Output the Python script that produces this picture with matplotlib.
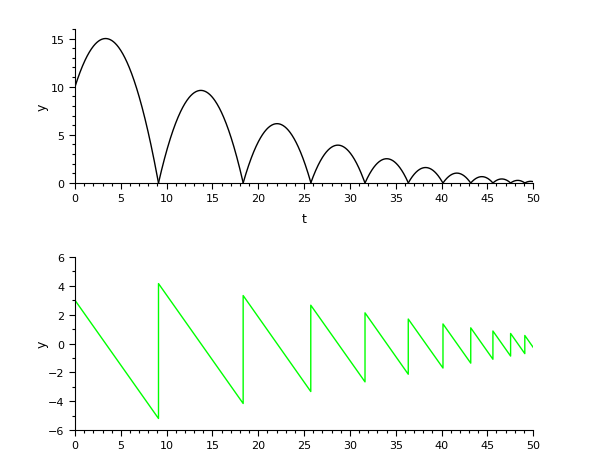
import numpy as np
import matplotlib
matplotlib.use("Agg")
import matplotlib.pyplot as plt
from matplotlib.ticker import MultipleLocator

# Values
bounce_t = [0.0, 9.11, 18.35, 25.73, 31.65, 36.37, 40.16, 43.19, 45.61, 47.54, 49.09, 50.0]
v_after = [3.0, 4.16, 3.33, 2.66, 2.13, 1.70, 1.36, 1.09, 0.87, 0.70, 0.56]
v_before = [-5.20, -4.16, -3.33, -2.66, -2.13, -1.70, -1.36, -1.09, -0.87, -0.70, -0.26]
y_start = [10.0, 0, 0, 0, 0, 0, 0, 0, 0, 0, 0]
g = 0.9

fig = plt.figure(figsize=(6.1, 4.6), dpi=100)
ax1 = fig.add_axes([0.123, 0.6, 0.751, 0.335])
ax2 = fig.add_axes([0.123, 0.063, 0.751, 0.376])

# position arcs
for i in range(len(v_after)):
    ts, te = bounce_t[i], bounce_t[i + 1]
    t = np.linspace(ts, te, 200)
    y = y_start[i] + v_after[i] * (t - ts) - 0.5 * g * (t - ts) ** 2
    y = np.maximum(y, 0)
    ax1.plot(t, y, color="black", lw=1.0)

# velocity sawtooth
vt, vv = [], []
for i in range(len(v_after)):
    vt += [bounce_t[i], bounce_t[i + 1]]
    vv += [v_after[i], v_before[i]]
ax2.plot(vt, vv, color="#00ff00", lw=1.0)

for ax in (ax1, ax2):
    ax.set_xlim(0, 50)
    ax.spines["top"].set_visible(False)
    ax.spines["right"].set_visible(False)
    ax.xaxis.set_major_locator(MultipleLocator(5))
    ax.xaxis.set_minor_locator(MultipleLocator(1))
    ax.tick_params(which="major", direction="out", length=4, width=0.8, labelsize=8)
    ax.tick_params(which="minor", direction="out", length=2.5, width=0.8)
    ax.set_ylabel("y", fontsize=9)
    ax.yaxis.set_label_coords(-0.058, 0.5)

ax1.set_ylim(0, 16)
ax1.set_yticks([0, 5, 10, 15])
ax1.yaxis.set_minor_locator(MultipleLocator(1))
ax1.set_xlabel("t", fontsize=9, labelpad=6)

ax2.set_ylim(-6, 6)
ax2.yaxis.set_major_locator(MultipleLocator(2))
ax2.yaxis.set_minor_locator(MultipleLocator(1))

fig.savefig("out.png", dpi=100)
